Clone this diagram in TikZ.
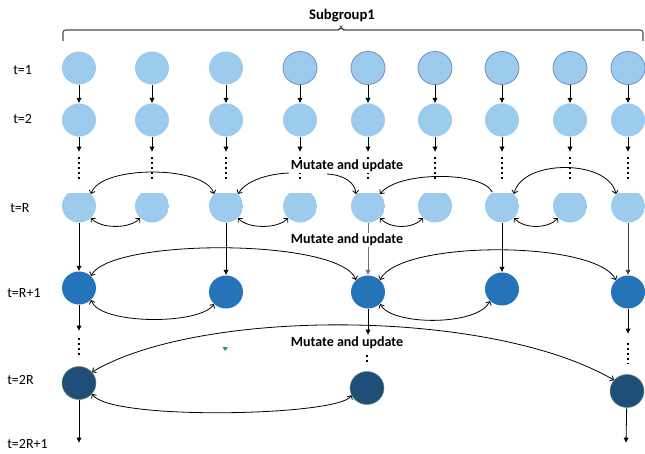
\documentclass[tikz,border=0pt]{standalone}
\usepackage{fontspec}
\setmainfont{Carlito}
\usetikzlibrary{arrows.meta,shapes.geometric}
\definecolor{cLight}{HTML}{9DCBED}
\definecolor{cEdge}{HTML}{6C8EBF}
\definecolor{cMid}{HTML}{2574BA}
\definecolor{cDark}{HTML}{1F4E79}
\definecolor{cDarkEdge}{HTML}{6E8F7A}
\definecolor{cMark}{HTML}{2A9090}

\begin{document}
\begin{tikzpicture}[x=0.75pt,y=-0.75pt,
  agent/.style={ellipse,minimum width=25.5pt,minimum height=24.75pt,inner sep=0pt},
  agLight/.style={agent,fill=cLight},
  agLightEdge/.style={agent,fill=cLight,draw=cEdge,line width=0.6pt},
  agCut/.style={agent,path picture={\fill[cLight] ([yshift=-2.25pt]path picture bounding box.north west) rectangle (path picture bounding box.south east);}},
  agMid/.style={agent,fill=cMid},
  agDark/.style={agent,fill=cDark,draw=cDarkEdge,line width=0.4pt},
  flowarrow/.style={line width=0.6pt,-{Latex[length=4pt,width=4pt]}},
  dotline/.style={line width=1.6pt,dash pattern=on 1.5pt off 2.25pt},
  swaparrow/.style={line width=0.6pt,{Straight Barb[length=2.2pt,width=4.5pt]}-{Straight Barb[length=2.2pt,width=4.5pt]}},
  pusharrow/.style={line width=0.6pt,-{Straight Barb[length=2.2pt,width=4.5pt]}},
  tlabel/.style={anchor=west,font=\fontsize{10.5}{12}\selectfont,inner sep=0pt},
  mutlabel/.style={font=\bfseries\fontsize{10.5}{12}\selectfont,fill=white,inner sep=1pt},
]
\useasboundingbox (0,0) rectangle (645,453);

% group heading and brace
\node[font=\bfseries\fontsize{11}{13}\selectfont] (head) at (342,16) {Subgroup1};
\draw[line width=0.8pt,draw=black!70,rounded corners=2pt]
  (63,41) |- (339,30) -- (341,27) -- (343,30) -| (643,41);

% row labels
\node[tlabel] (l1) at (13,70) {t=1};
\node[tlabel] (l2) at (13,119) {t=2};
\node[tlabel] (lR) at (10,208) {t=R};
\node[tlabel] (lR1) at (7,293) {t=R+1};
\node[tlabel] (l2R) at (7,380) {t=2R};
\node[tlabel] (l2R1) at (7,444) {t=2R+1};

% rows t=1, t=2 and t=R
\foreach \i/\x in {1/79,2/152,3/226,4/300,5/368,6/435,7/502,8/570,9/628} {
  \ifnum\i<4
    \node[agLight] (a\i) at (\x,68) {};
  \else
    \node[agLightEdge] (a\i) at (\x,68) {};
  \fi
  \node[agLight] (b\i) at (\x,120) {};
  \node[agCut] (r\i) at (\x,206) {};
  \coordinate (c\i) at (\x,152);
  \coordinate (d\i) at (\x,157);
  \coordinate (e\i) at (\x,179);
  \draw[flowarrow] (a\i) -- (b\i);
  \draw[flowarrow] (b\i) -- (c\i);
  \draw[dotline] (d\i) -- (e\i);
}

% row t=R+1
\node[agMid] (s1) at (79,288) {};
\node[agMid] (s3) at (226,292) {};
\node[agMid] (s5) at (368,292) {};
\node[agMid] (s7) at (502,289) {};
\node[agMid] (s9) at (628,292) {};

% row t=2R
\node[agDark] (u1) at (79,383) {};
\node[agDark] (u5) at (367,388) {};
\node[agDark] (u9) at (627,391) {};

% vertical flow t=R -> t=R+1
\draw[flowarrow] (r1) -- (s1);
\draw[flowarrow] (r3) -- (s3);
\draw[flowarrow,draw=black!55] (r5) -- (s5);
\draw[flowarrow] (r7) -- (s7);
\draw[flowarrow,draw=black!75] (r9) -- (s9);

% vertical flow t=R+1 -> t=2R -> t=2R+1
\coordinate (f1) at (79,331);
\coordinate (f5) at (368,335);
\coordinate (f9) at (628,334);
\draw[flowarrow] (s1) -- (f1);
\draw[flowarrow] (s5) -- (f5);
\draw[flowarrow] (s9) -- (f9);
\coordinate (g1a) at (79,338);  \coordinate (g1b) at (79,358);
\coordinate (g5a) at (367,355); \coordinate (g5b) at (367,364);
\coordinate (g9a) at (628,343); \coordinate (g9b) at (628,364);
\draw[dotline] (g1a) -- (g1b);
\draw[dotline] (g5a) -- (g5b);
\draw[dotline] (g9a) -- (g9b);
\coordinate (h1) at (79,443);
\coordinate (h9) at (626,443);
\draw[flowarrow] (u1) -- (h1);
\draw[flowarrow] (u9) -- (h9);

% stage captions
\node[mutlabel] (m1) at (347,166) {Mutate and update};
\node[mutlabel] (m2) at (347,240) {Mutate and update};
\node[mutlabel] (m3) at (347,343) {Mutate and update};

% exchanges at t=R
\draw[swaparrow] (r1.45) .. controls (100,165) and (205,165) .. (r3.135);
\draw[swaparrow] (r7.45) .. controls (522,159) and (608,159) .. (r9.135);
\draw[pusharrow] (r7.125) .. controls (482,171) and (398,171) .. (r5.45);
\coordinate (m1l) at (289,173);
\coordinate (m1r) at (327,174);
\draw[pusharrow] (m1l) .. controls (265,174) and (245,182) .. (r3.45);
\draw[pusharrow] (m1r) .. controls (345,175) and (355,183) .. (r5.135);
\draw[swaparrow] (r1.-45) .. controls (101,229) and (130,229) .. (r2.-135);
\draw[swaparrow] (r3.-45) .. controls (248,229) and (278,229) .. (r4.-135);
\draw[swaparrow] (r5.-45) .. controls (390,229) and (413,229) .. (r6.-135);
\draw[swaparrow] (r7.-45) .. controls (524,229) and (548,229) .. (r8.-135);

% exchanges at t=R+1
\draw[swaparrow] (s1.45) .. controls (110,238) and (340,238) .. (s5.135);
\draw[swaparrow] (s5.45) .. controls (400,240) and (595,240) .. (s9.135);
\draw[swaparrow] (s1.-45) .. controls (100,325) and (200,325) .. (s3.-135);
\draw[swaparrow] (s5.-45) .. controls (392,326) and (478,326) .. (s7.-135);

% exchanges at t=2R
\draw[swaparrow] (u1.40) .. controls (200,308) and (490,308) .. (u9.140);
\draw[swaparrow] (u1.-40) .. controls (110,421) and (340,416) .. (u5.-155);

% small marker
\fill[cMark] (222.5,347) -- (228,347) -- (225.2,351) -- cycle;
\end{tikzpicture}
\end{document}
